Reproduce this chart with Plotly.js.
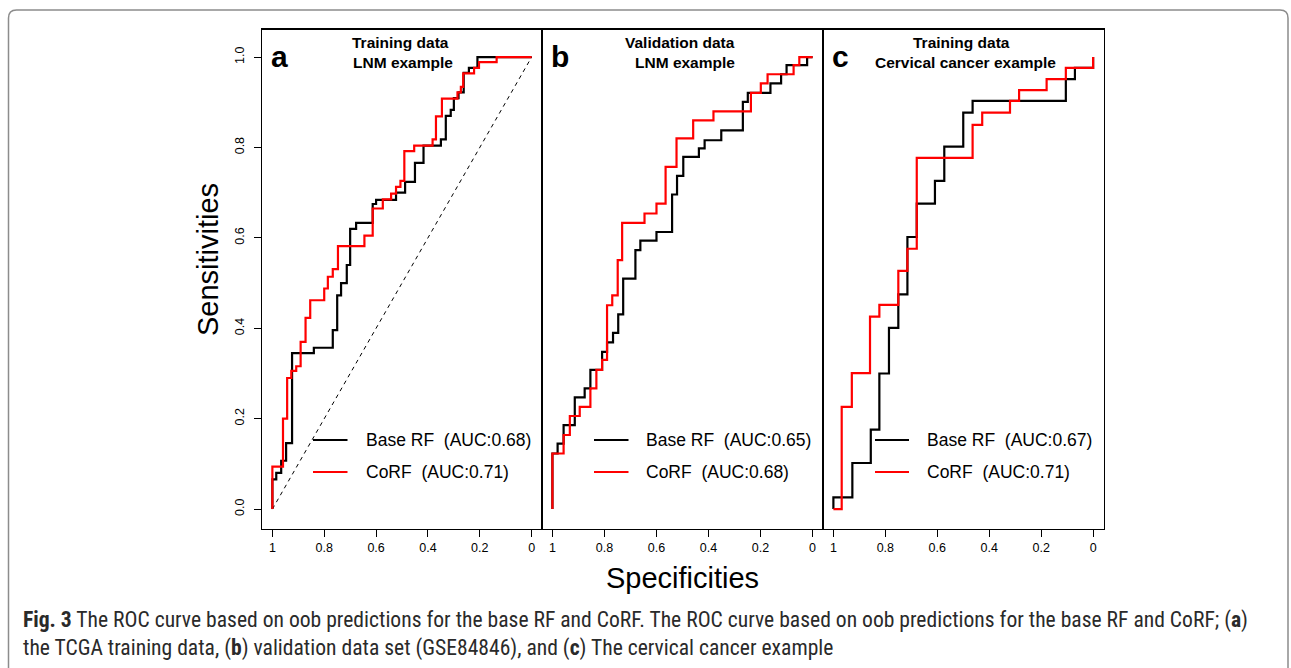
<!DOCTYPE html>
<html>
<head>
<meta charset="utf-8">
<script src="https://cdn.plot.ly/plotly-3.0.1.min.js"></script>
<style>
html,body{margin:0;padding:0;background:#fff;}
#chart{width:1291px;height:668px;}
</style>
</head>
<body>
<div id="chart"></div>
<script>
// ---------- DATA ----------
// Panel a: Training data, LNM example
const specA_base = [1, 1, 0.985, 0.966, 0.947, 0.924, 0.84, 0.767, 0.75, 0.735, 0.713, 0.70, 0.677, 0.613, 0.60, 0.523, 0.488, 0.45, 0.417, 0.35, 0.331, 0.312, 0.30, 0.282, 0.262, 0.242, 0.209, 0];
const sensA_base = [0, 0.066, 0.08, 0.107, 0.146, 0.345, 0.357, 0.396, 0.473, 0.50, 0.54, 0.62, 0.633, 0.675, 0.684, 0.70, 0.724, 0.766, 0.804, 0.818, 0.87, 0.883, 0.909, 0.922, 0.965, 0.976, 1.0, 1.0];
const specA_corf = [1, 1, 0.959, 0.943, 0.927, 0.908, 0.891, 0.872, 0.854, 0.80, 0.786, 0.767, 0.747, 0.645, 0.613, 0.574, 0.542, 0.523, 0.506, 0.491, 0.453, 0.382, 0.369, 0.346, 0.286, 0.273, 0.264, 0.222, 0.203, 0.135, 0];
const sensA_corf = [0, 0.094, 0.2, 0.29, 0.306, 0.316, 0.37, 0.423, 0.462, 0.488, 0.514, 0.531, 0.582, 0.605, 0.665, 0.685, 0.698, 0.713, 0.726, 0.792, 0.804, 0.818, 0.869, 0.908, 0.922, 0.934, 0.964, 0.976, 0.989, 1.0, 1.0];

// Panel b: Validation data, LNM example
const specB_base = [1, 1, 0.98, 0.957, 0.914, 0.876, 0.854, 0.809, 0.79, 0.767, 0.747, 0.728, 0.681, 0.662, 0.60, 0.54, 0.521, 0.497, 0.437, 0.415, 0.351, 0.268, 0.249, 0.162, 0.121, 0.10, 0.021, 0];
const sensB_base = [0, 0.123, 0.145, 0.186, 0.247, 0.267, 0.308, 0.348, 0.369, 0.39, 0.431, 0.51, 0.573, 0.594, 0.613, 0.696, 0.737, 0.779, 0.798, 0.816, 0.838, 0.901, 0.921, 0.942, 0.962, 0.982, 1.0, 1.0];
const specB_corf = [1, 1, 0.957, 0.933, 0.895, 0.854, 0.831, 0.809, 0.79, 0.77, 0.749, 0.732, 0.646, 0.60, 0.565, 0.523, 0.459, 0.381, 0.237, 0.199, 0.173, 0.073, 0.051, 0];
const sensB_corf = [0, 0.123, 0.164, 0.206, 0.226, 0.267, 0.308, 0.33, 0.451, 0.473, 0.551, 0.633, 0.654, 0.676, 0.757, 0.82, 0.86, 0.88, 0.921, 0.942, 0.962, 0.982, 1.0, 1.0];

// Panel c: Training data, Cervical cancer example
const specC_base = [1, 1, 0.927, 0.856, 0.823, 0.786, 0.75, 0.715, 0.679, 0.609, 0.573, 0.50, 0.464, 0.105, 0.07, 0];
const sensC_base = [0, 0.026, 0.102, 0.176, 0.30, 0.401, 0.475, 0.602, 0.676, 0.726, 0.802, 0.877, 0.903, 0.951, 0.976, 1.0];
const specC_corf = [1, 0.968, 0.929, 0.859, 0.823, 0.75, 0.715, 0.679, 0.464, 0.427, 0.32, 0.285, 0.179, 0.105, 0];
const sensC_corf = [0, 0.226, 0.301, 0.426, 0.452, 0.527, 0.576, 0.777, 0.85, 0.877, 0.903, 0.927, 0.951, 0.976, 1.0];

const aucBase = ["0.68", "0.65", "0.67"];
const aucCorf = ["0.71", "0.68", "0.71"];
const panelLetters = ["a", "b", "c"];
const panelTitle1 = ["Training data", "Validation data", "Training data"];
const panelTitle2 = ["LNM example", "LNM example", "Cervical cancer example"];

const xTickVals = [1, 0.8, 0.6, 0.4, 0.2, 0];
const xTickText = ["1", "0.8", "0.6", "0.4", "0.2", "0"];
const yTickVals = [0, 0.2, 0.4, 0.6, 0.8, 1.0];
const yTickText = ["0.0", "0.2", "0.4", "0.6", "0.8", "1.0"];

const captionLine1 = "<b>Fig. 3</b> The ROC curve based on oob predictions for the base RF and CoRF. The ROC curve based on oob predictions for the base RF and CoRF; (<b>a</b>)";
const captionLine2 = "the TCGA training data, (<b>b</b>) validation data set (GSE84846), and (<b>c</b>) The cervical cancer example";

// ---------- LAYOUT HELPERS ----------
const W = 1291, H = 668;
const px = v => v / W;
const py = v => 1 - v / H;
const FONT = "Liberation Sans, Arial, Helvetica, sans-serif";

const panelX = [[262, 542], [542, 823], [823, 1103.5]];
const panelTop = 29.5, panelBottom = 529;
const titleCx1 = [400, 680, 961];
const titleCx2 = [403, 685, 965];
const letterCx = [279, 560, 840];
const legLineX = [[313, 347.5], [594, 628.5], [875, 909]];
const legTextX = [364, 644, 925];

const BLACK = "#000000", RED = "#ff0000";
const LW = 2.2;

function curve(x, y, color, xa, ya) {
  return {x: x, y: y, type: "scatter", mode: "lines", xaxis: xa, yaxis: ya,
    line: {color: color, width: LW, shape: "hv"}, hoverinfo: "skip", showlegend: false};
}

const traces = [
  {x: [1, 0], y: [0, 1], type: "scatter", mode: "lines", xaxis: "x", yaxis: "y",
   line: {color: "#000", width: 1, dash: "4px,4px"}, hoverinfo: "skip", showlegend: false},
  curve(specA_base, sensA_base, BLACK, "x", "y"),
  curve(specA_corf, sensA_corf, RED, "x", "y"),
  curve(specB_base, sensB_base, BLACK, "x2", "y2"),
  curve(specB_corf, sensB_corf, RED, "x2", "y2"),
  curve(specC_base, sensC_base, BLACK, "x3", "y3"),
  curve(specC_corf, sensC_corf, RED, "x3", "y3")
];

function xAxis(i) {
  return {
    domain: [px(panelX[i][0]), px(panelX[i][1])],
    range: [1.04, -0.04], anchor: i === 0 ? "y" : "y" + (i + 1),
    tickmode: "array", tickvals: xTickVals, ticktext: xTickText,
    ticks: "outside", ticklen: 7, tickwidth: 1, tickcolor: "#000",
    showline: true, mirror: true, linecolor: "#000", linewidth: 1.2,
    showgrid: false, zeroline: false, fixedrange: true,
    tickfont: {family: FONT, size: 12.5, color: "#000"}
  };
}
function yAxis(i) {
  const a = {
    domain: [py(panelBottom), py(panelTop)],
    range: [-0.044, 1.061], anchor: i === 0 ? "x" : "x" + (i + 1),
    showline: true, mirror: true, linecolor: "#000", linewidth: 1.2,
    showgrid: false, zeroline: false, fixedrange: true
  };
  if (i === 0) {
    Object.assign(a, {tickmode: "array", tickvals: yTickVals, ticktext: yTickText,
      ticks: "outside", ticklen: 7, tickwidth: 1, tickcolor: "#000", tickangle: -90,
      ticklabelstandoff: 5,
      tickfont: {family: FONT, size: 12.5, color: "#000"}});
  } else {
    Object.assign(a, {showticklabels: false, ticks: ""});
  }
  return a;
}

const annotations = [];
const shapes = [];
for (let i = 0; i < 3; i++) {
  annotations.push({xref: "paper", yref: "paper", x: px(letterCx[i]), y: py(56), text: "<b>" + panelLetters[i] + "</b>",
    showarrow: false, xanchor: "center", yanchor: "middle", font: {family: FONT, size: 30, color: "#000"}});
  annotations.push({xref: "paper", yref: "paper", x: px(titleCx1[i]), y: py(43), text: "<b>" + panelTitle1[i] + "</b>",
    showarrow: false, xanchor: "center", yanchor: "middle", font: {family: FONT, size: 15.5, color: "#000"}});
  annotations.push({xref: "paper", yref: "paper", x: px(titleCx2[i]), y: py(62.5), text: "<b>" + panelTitle2[i] + "</b>",
    showarrow: false, xanchor: "center", yanchor: "middle", font: {family: FONT, size: 15.5, color: "#000"}});
  annotations.push({xref: "paper", yref: "paper", x: px(legTextX[i]), y: py(440), text: "Base RF\u00a0 (AUC:" + aucBase[i] + ")",
    showarrow: false, xanchor: "left", yanchor: "middle", font: {family: FONT, size: 17.5, color: "#000"}});
  annotations.push({xref: "paper", yref: "paper", x: px(legTextX[i]), y: py(472), text: "CoRF\u00a0 (AUC:" + aucCorf[i] + ")",
    showarrow: false, xanchor: "left", yanchor: "middle", font: {family: FONT, size: 17.5, color: "#000"}});
  shapes.push({type: "line", xref: "paper", yref: "paper", x0: px(legLineX[i][0]), x1: px(legLineX[i][1]), y0: py(440), y1: py(440),
    line: {color: BLACK, width: 2.2}});
  shapes.push({type: "line", xref: "paper", yref: "paper", x0: px(legLineX[i][0]), x1: px(legLineX[i][1]), y0: py(472), y1: py(472),
    line: {color: RED, width: 2.2}});
}
// axis titles
annotations.push({xref: "paper", yref: "paper", x: px(682), y: py(578), text: "Specificities", showarrow: false,
  xanchor: "center", yanchor: "middle", font: {family: FONT, size: 29, color: "#000"}});
annotations.push({xref: "paper", yref: "paper", x: px(208), y: py(260), text: "Sensitivities", showarrow: false, textangle: -90,
  xanchor: "center", yanchor: "middle", font: {family: FONT, size: 29, color: "#000"}});
// caption
const CAPFONT = "Liberation Sans Narrow, Arial Narrow, Roboto Condensed, sans-serif";
annotations.push({xref: "paper", yref: "paper", x: px(21), y: py(620), text: captionLine1, showarrow: false,
  xanchor: "left", yanchor: "middle", font: {family: CAPFONT, size: 21.6, color: "#2a2a2a"}});
annotations.push({xref: "paper", yref: "paper", x: px(21), y: py(648), text: captionLine2, showarrow: false,
  xanchor: "left", yanchor: "middle", font: {family: CAPFONT, size: 21.6, color: "#2a2a2a"}});

// outer rounded figure frame
const fx0 = 8.5, fx1 = 1288, fy0 = 10, fb = 700, r = 8;
const framePath = "M " + px(fx0) + " " + py(fb) +
  " L " + px(fx0) + " " + py(fy0 + r) +
  " Q " + px(fx0) + " " + py(fy0) + " " + px(fx0 + r) + " " + py(fy0) +
  " L " + px(fx1 - r) + " " + py(fy0) +
  " Q " + px(fx1) + " " + py(fy0) + " " + px(fx1) + " " + py(fy0 + r) +
  " L " + px(fx1) + " " + py(fb);
shapes.push({type: "path", xref: "paper", yref: "paper", path: framePath, line: {color: "#8c8c8c", width: 1.5}, layer: "below"});

const layout = {
  width: W, height: H, margin: {l: 0, r: 0, t: 0, b: 0, pad: 0},
  paper_bgcolor: "#fff", plot_bgcolor: "rgba(0,0,0,0)",
  showlegend: false,
  xaxis: xAxis(0), xaxis2: xAxis(1), xaxis3: xAxis(2),
  yaxis: yAxis(0), yaxis2: yAxis(1), yaxis3: yAxis(2),
  annotations: annotations, shapes: shapes
};

Plotly.newPlot("chart", traces, layout, {staticPlot: true, displayModeBar: false});
</script>
</body>
</html>
